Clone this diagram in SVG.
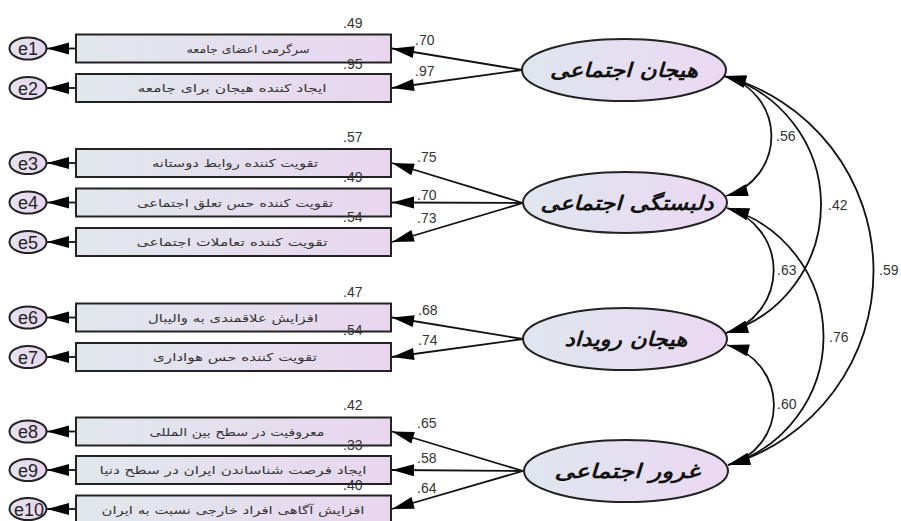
<svg xmlns="http://www.w3.org/2000/svg" width="901" height="521" viewBox="0 0 901 521">
<style>
.box{stroke:#222;stroke-width:2;fill:url(#gb)}
.lat{stroke:#222;stroke-width:2;fill:url(#ge)}
.err{stroke:#222;stroke-width:2;fill:url(#gc)}
.ct{font-family:"DejaVu Sans","Noto Sans",sans-serif;font-size:11px;fill:#333;text-anchor:middle}
.lt{font-family:"DejaVu Sans","Noto Sans",sans-serif;font-size:20px;font-weight:bold;font-style:italic;fill:#111;text-anchor:middle}
.et{font-family:"Liberation Sans",Arial,sans-serif;font-size:18px;fill:#222;text-anchor:middle}
.nm{font-family:"Liberation Sans",Arial,sans-serif;font-size:14px;fill:#333}
.ln{stroke:#111;stroke-width:1.8;fill:none}
.ar{marker-end:url(#ah)}
.cv{marker-start:url(#ah);marker-end:url(#ah)}
</style>
<defs>
<linearGradient id="gb" x1="0" y1="0" x2="1" y2="0">
<stop offset="0" stop-color="#e1e8ec"/>
<stop offset="1" stop-color="#e8d6ef"/>
</linearGradient>
<linearGradient id="ge" x1="0" y1="0" x2="1" y2="0">
<stop offset="0" stop-color="#dfe6ee"/>
<stop offset="1" stop-color="#ebd8f3"/>
</linearGradient>
<linearGradient id="gc" x1="0" y1="0" x2="1" y2="0">
<stop offset="0" stop-color="#e4e2ee"/>
<stop offset="1" stop-color="#e8d6ef"/>
</linearGradient>
<marker id="ah" markerUnits="userSpaceOnUse" viewBox="-23 -7 24 14" refX="0" refY="0" markerWidth="24" markerHeight="14" orient="auto-start-reverse">
<path d="M0,0 L-22,-6 L-22,6 Z" fill="#000"/>
</marker>
</defs>
<rect width="901" height="521" fill="#fff"/>

<g id="connectors">
<line class="ln ar" x1="76" y1="48.5" x2="47" y2="48.5"/>
<line class="ln ar" x1="76" y1="88" x2="47" y2="88"/>
<line class="ln ar" x1="76" y1="163" x2="47" y2="163"/>
<line class="ln ar" x1="76" y1="202.5" x2="47" y2="202.5"/>
<line class="ln ar" x1="76" y1="242" x2="47" y2="242"/>
<line class="ln ar" x1="76" y1="317.5" x2="47" y2="317.5"/>
<line class="ln ar" x1="76" y1="357" x2="47" y2="357"/>
<line class="ln ar" x1="76" y1="431.5" x2="47" y2="431.5"/>
<line class="ln ar" x1="76" y1="470" x2="47" y2="470"/>
<line class="ln ar" x1="76" y1="509" x2="47" y2="509"/>

<line class="ln ar" x1="522" y1="70" x2="392" y2="48.5"/>
<line class="ln ar" x1="522" y1="70" x2="392" y2="88"/>
<line class="ln ar" x1="523" y1="203" x2="392" y2="163"/>
<line class="ln ar" x1="523" y1="203" x2="392" y2="202.5"/>
<line class="ln ar" x1="523" y1="203" x2="392" y2="242"/>
<line class="ln ar" x1="523" y1="339" x2="392" y2="317.5"/>
<line class="ln ar" x1="523" y1="339" x2="392" y2="357"/>
<line class="ln ar" x1="523" y1="471" x2="392" y2="431.5"/>
<line class="ln ar" x1="523" y1="471" x2="392" y2="470"/>
<line class="ln ar" x1="523" y1="471" x2="392" y2="509"/>

<path class="ln cv" d="M724,76 A62,62 0 0 1 726,196"/>
<path class="ln cv" d="M724,76 A134,134 0 0 1 726,333"/>
<path class="ln cv" d="M724,76 A202,202 0 0 1 728,465"/>
<path class="ln cv" d="M727,208 A65,65 0 0 1 726,333"/>
<path class="ln cv" d="M727,208 A134,134 0 0 1 728,465"/>
<path class="ln cv" d="M727,345 A62,62 0 0 1 728,465"/>

<text class="nm" x="415" y="45">.70</text>
<text class="nm" x="415" y="76">.97</text>
<text class="nm" x="417" y="162">.75</text>
<text class="nm" x="417" y="200">.70</text>
<text class="nm" x="417" y="223">.73</text>
<text class="nm" x="418" y="315">.68</text>
<text class="nm" x="418" y="345">.74</text>
<text class="nm" x="417" y="428">.65</text>
<text class="nm" x="417" y="463">.58</text>
<text class="nm" x="417" y="493">.64</text>

<text class="nm" x="776" y="141">.56</text>
<text class="nm" x="828" y="210">.42</text>
<text class="nm" x="879" y="275">.59</text>
<text class="nm" x="777" y="275">.63</text>
<text class="nm" x="829" y="342">.76</text>
<text class="nm" x="777" y="409">.60</text>
</g>

<g id="e1"><ellipse class="err" cx="28" cy="48.5" rx="18.5" ry="11"/><text class="et" x="28" y="55">e1</text></g>
<g id="e2"><ellipse class="err" cx="28" cy="88" rx="18.5" ry="11"/><text class="et" x="28" y="94.5">e2</text></g>
<g id="e3"><ellipse class="err" cx="28" cy="163" rx="18.5" ry="11"/><text class="et" x="28" y="169.5">e3</text></g>
<g id="e4"><ellipse class="err" cx="28" cy="202.5" rx="18.5" ry="11"/><text class="et" x="28" y="209">e4</text></g>
<g id="e5"><ellipse class="err" cx="28" cy="242" rx="18.5" ry="11"/><text class="et" x="28" y="248.5">e5</text></g>
<g id="e6"><ellipse class="err" cx="28" cy="317.5" rx="18.5" ry="11"/><text class="et" x="28" y="324">e6</text></g>
<g id="e7"><ellipse class="err" cx="28" cy="357" rx="18.5" ry="11"/><text class="et" x="28" y="363.5">e7</text></g>
<g id="e8"><ellipse class="err" cx="28" cy="431.5" rx="18.5" ry="11"/><text class="et" x="28" y="438">e8</text></g>
<g id="e9"><ellipse class="err" cx="28" cy="470" rx="18.5" ry="11"/><text class="et" x="28" y="476.5">e9</text></g>
<g id="e10"><ellipse class="err" cx="28" cy="509" rx="18.5" ry="11"/><text class="et" x="29" y="515.5">e10</text></g>

<g id="v1"><rect class="box" x="76" y="34.5" width="315" height="28"/><text class="ct" x="248" y="52.5" textLength="123" lengthAdjust="spacingAndGlyphs">سرگرمی اعضای جامعه</text><text class="nm" x="343" y="28">.49</text></g>
<g id="v2"><rect class="box" x="76" y="74" width="315" height="28"/><text class="ct" x="232" y="92" textLength="189" lengthAdjust="spacingAndGlyphs">ایجاد کننده هیجان برای جامعه</text><text class="nm" x="343" y="69">.95</text></g>
<g id="v3"><rect class="box" x="76" y="149" width="315" height="28"/><text class="ct" x="235" y="167" textLength="166" lengthAdjust="spacingAndGlyphs">تقویت کننده روابط دوستانه</text><text class="nm" x="343" y="142">.57</text></g>
<g id="v4"><rect class="box" x="76" y="188.5" width="315" height="28"/><text class="ct" x="235" y="206.5" textLength="196" lengthAdjust="spacingAndGlyphs">تقویت کننده حس تعلق اجتماعی</text><text class="nm" x="343" y="182">.49</text></g>
<g id="v5"><rect class="box" x="76" y="228" width="315" height="28"/><text class="ct" x="232" y="246" textLength="191" lengthAdjust="spacingAndGlyphs">تقویت کننده تعاملات اجتماعی</text><text class="nm" x="343" y="222">.54</text></g>
<g id="v6"><rect class="box" x="76" y="303.5" width="315" height="28"/><text class="ct" x="233" y="321.5" textLength="170" lengthAdjust="spacingAndGlyphs">افزایش علاقمندی به والیبال</text><text class="nm" x="343" y="297">.47</text></g>
<g id="v7"><rect class="box" x="76" y="343" width="315" height="28"/><text class="ct" x="235" y="361" textLength="164" lengthAdjust="spacingAndGlyphs">تقویت کننده حس هواداری</text><text class="nm" x="343" y="335">.54</text></g>
<g id="v8"><rect class="box" x="76" y="417.5" width="315" height="28"/><text class="ct" x="237" y="435.5" textLength="175" lengthAdjust="spacingAndGlyphs">معروفیت در سطح بین المللی</text><text class="nm" x="343" y="410">.42</text></g>
<g id="v9"><rect class="box" x="76" y="456" width="315" height="28"/><text class="ct" x="233" y="474" textLength="267" lengthAdjust="spacingAndGlyphs">ایجاد فرصت شناساندن ایران در سطح دنیا</text><text class="nm" x="343" y="450">.33</text></g>
<g id="v10"><rect class="box" x="76" y="495.5" width="315" height="28"/><text class="ct" x="233" y="513.5" textLength="263" lengthAdjust="spacingAndGlyphs">افزایش آگاهی افراد خارجی نسبت به ایران</text><text class="nm" x="343" y="490">.40</text></g>

<g id="f1"><ellipse class="lat" cx="624" cy="70" rx="102" ry="31"/><text class="lt" x="624" y="77" textLength="148" lengthAdjust="spacingAndGlyphs">هیجان اجتماعی</text></g>
<g id="f2"><ellipse class="lat" cx="625" cy="202.5" rx="102" ry="30.5"/><text class="lt" x="627" y="209.5" textLength="173" lengthAdjust="spacingAndGlyphs">دلبستگی اجتماعی</text></g>
<g id="f3"><ellipse class="lat" cx="625" cy="339" rx="102" ry="31"/><text class="lt" x="626" y="346" textLength="123" lengthAdjust="spacingAndGlyphs">هیجان رویداد</text></g>
<g id="f4"><ellipse class="lat" cx="626" cy="471" rx="102" ry="31"/><text class="lt" x="627" y="478" textLength="145" lengthAdjust="spacingAndGlyphs">غرور اجتماعی</text></g>
</svg>
